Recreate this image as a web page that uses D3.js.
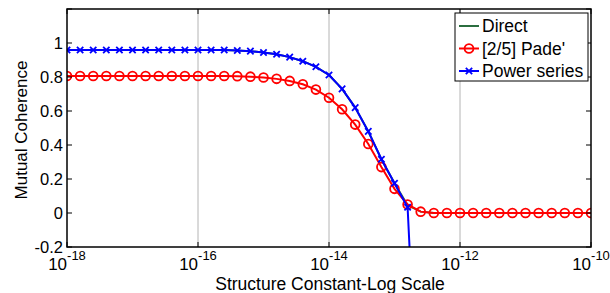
<!DOCTYPE html>
<html>
<head>
<meta charset="utf-8">
<script src="https://cdn.jsdelivr.net/npm/d3@7"></script>
<style>
  body { margin: 0; background: #fff; }
  text { font-family: "Liberation Sans", Arial, sans-serif; fill: #000; }
</style>
</head>
<body>
<div id="chart"></div>
<script>
// exponent of the structure constant (x = 10^exp)
const exps = [-18, -17.8, -17.6, -17.4, -17.2, -17, -16.8, -16.6, -16.4, -16.2,
  -16, -15.8, -15.6, -15.4, -15.2, -15, -14.8, -14.6, -14.4, -14.2,
  -14, -13.8, -13.6, -13.4, -13.2, -13, -12.8, -12.6, -12.4, -12.2,
  -12, -11.8, -11.6, -11.4, -11.2, -11, -10.8, -10.6, -10.4, -10.2, -10];

const pade = [0.806, 0.806, 0.806, 0.806, 0.806, 0.806, 0.806, 0.806, 0.806, 0.806,
  0.806, 0.806, 0.806, 0.805, 0.802, 0.797, 0.789, 0.777, 0.757, 0.726,
  0.678, 0.61, 0.52, 0.406, 0.27, 0.142, 0.05, 0.008, 0, 0,
  0, 0, 0, 0, 0, 0, 0, 0, 0, 0, 0];

// power series only evaluated up to where it diverges
const power = [0.959, 0.959, 0.959, 0.959, 0.959, 0.959, 0.959, 0.959, 0.959, 0.959,
  0.959, 0.959, 0.959, 0.956, 0.952, 0.944, 0.934, 0.917, 0.893, 0.86,
  0.812, 0.73, 0.62, 0.48, 0.316, 0.175, 0.034, -1.55];

const direct = [0.959, 0.959, 0.959, 0.959, 0.959, 0.959, 0.959, 0.959, 0.959, 0.959,
  0.959, 0.959, 0.959, 0.956, 0.952, 0.944, 0.934, 0.917, 0.893, 0.86,
  0.812, 0.73, 0.62, 0.48, 0.316, 0.175, 0.045, 0.008, 0, 0,
  0, 0, 0, 0, 0, 0, 0, 0, 0, 0, 0];

const xTickExps = [-18, -16, -14, -12, -10];
const gridExps = [-16, -14, -12];
const yTicks = [-0.2, 0, 0.2, 0.4, 0.6, 0.8, 1, 1.2];
const yLabels = ["-0.2", "0", "0.2", "0.4", "0.6", "0.8", "1", ""];
const legendNames = ["Direct", "[2/5] Pade'", "Power series"];

const W = 610, H = 293;
const L = 67, R = 591, T = 9, B = 247;

const svg = d3.select("#chart").append("svg")
  .attr("width", W).attr("height", H);

const x = d3.scaleLog().domain([1e-18, 1e-10]).range([L, R]);
const y = d3.scaleLinear().domain([-0.2, 1.2]).range([B, T]);

// grid lines
svg.append("g").selectAll("line")
  .data(gridExps)
  .join("line")
  .attr("x1", d => x(Math.pow(10, d))).attr("x2", d => x(Math.pow(10, d)))
  .attr("y1", T).attr("y2", B)
  .attr("stroke", "#b4b4b4").attr("stroke-width", 1);

// clip for data
svg.append("clipPath").attr("id", "clip")
  .append("rect").attr("x", L).attr("y", T).attr("width", R - L).attr("height", B - T);

const plot = svg.append("g").attr("clip-path", "url(#clip)");

const line = d3.line()
  .x((d, i) => x(Math.pow(10, exps[i])))
  .y(d => y(d));

plot.append("path").datum(direct)
  .attr("d", line).attr("fill", "none")
  .attr("stroke", "#2b6e3f").attr("stroke-width", 2);

plot.append("path").datum(pade)
  .attr("d", line).attr("fill", "none")
  .attr("stroke", "#ff0000").attr("stroke-width", 2);

plot.selectAll("circle.pade")
  .data(pade)
  .join("circle")
  .attr("class", "pade")
  .attr("cx", (d, i) => x(Math.pow(10, exps[i])))
  .attr("cy", d => y(d))
  .attr("r", 4.4)
  .attr("fill", "none").attr("stroke", "#ff0000").attr("stroke-width", 1.8);

plot.append("path").datum(power)
  .attr("d", line).attr("fill", "none")
  .attr("stroke", "#0000ff").attr("stroke-width", 2);

const cross = d3.symbol().type(d3.symbolX).size(28);
plot.selectAll("path.power")
  .data(power)
  .join("path")
  .attr("class", "power")
  .attr("transform", (d, i) => `translate(${x(Math.pow(10, exps[i]))},${y(d)})`)
  .attr("d", cross)
  .attr("fill", "none").attr("stroke", "#0000ff").attr("stroke-width", 1.8);

// axes box
svg.append("rect")
  .attr("x", L).attr("y", T).attr("width", R - L).attr("height", B - T)
  .attr("fill", "none").attr("stroke", "#000").attr("stroke-width", 1.5);

// ticks (inward, both sides)
const tk = 5;
svg.append("g").selectAll("line")
  .data(yTicks)
  .join("line")
  .attr("x1", L).attr("x2", L + tk)
  .attr("y1", d => y(d)).attr("y2", d => y(d))
  .attr("stroke", "#000");
svg.append("g").selectAll("line")
  .data(yTicks)
  .join("line")
  .attr("x1", R).attr("x2", R - tk)
  .attr("y1", d => y(d)).attr("y2", d => y(d))
  .attr("stroke", "#000");
svg.append("g").selectAll("line")
  .data(xTickExps)
  .join("line")
  .attr("x1", d => x(Math.pow(10, d))).attr("x2", d => x(Math.pow(10, d)))
  .attr("y1", B).attr("y2", B - tk)
  .attr("stroke", "#000");
svg.append("g").selectAll("line")
  .data(xTickExps)
  .join("line")
  .attr("x1", d => x(Math.pow(10, d))).attr("x2", d => x(Math.pow(10, d)))
  .attr("y1", T).attr("y2", T + tk)
  .attr("stroke", "#000");

// y tick labels
svg.append("g").selectAll("text")
  .data(yTicks)
  .join("text")
  .attr("x", L - 4)
  .attr("y", d => y(d) + 6)
  .attr("text-anchor", "end")
  .attr("font-size", "16.5px")
  .text((d, i) => yLabels[i]);

// x tick labels: 10^n
const xl = svg.append("g").selectAll("text")
  .data(xTickExps)
  .join("text")
  .attr("x", d => x(Math.pow(10, d)))
  .attr("y", 270)
  .attr("text-anchor", "middle")
  .attr("font-size", "17px");
xl.append("tspan").text("10");
xl.append("tspan").attr("dy", -10).attr("font-size", "13px").text(d => d);

// axis titles
svg.append("text")
  .attr("x", (L + R) / 2 + 1).attr("y", 290)
  .attr("text-anchor", "middle")
  .attr("font-size", "17.5px")
  .text("Structure Constant-Log Scale");

svg.append("text")
  .attr("transform", `translate(27,${(T + B) / 2 + 2}) rotate(-90)`)
  .attr("text-anchor", "middle")
  .attr("font-size", "17px")
  .text("Mutual Coherence");

// legend
const lg = svg.append("g");
lg.append("rect")
  .attr("x", 455).attr("y", 13).attr("width", 133).attr("height", 68)
  .attr("fill", "#fff").attr("stroke", "#000").attr("stroke-width", 1);
const lgColors = ["#2b6e3f", "#ff0000", "#0000ff"];
const lgY = [26, 48.5, 71];
legendNames.forEach((name, i) => {
  lg.append("line")
    .attr("x1", 459).attr("x2", 479).attr("y1", lgY[i]).attr("y2", lgY[i])
    .attr("stroke", lgColors[i]).attr("stroke-width", 2);
  if (i === 1) {
    lg.append("circle").attr("cx", 469).attr("cy", lgY[i]).attr("r", 4.4)
      .attr("fill", "none").attr("stroke", lgColors[i]).attr("stroke-width", 1.8);
  }
  if (i === 2) {
    lg.append("path").attr("transform", `translate(469,${lgY[i]})`)
      .attr("d", cross).attr("fill", "none")
      .attr("stroke", lgColors[i]).attr("stroke-width", 1.8);
  }
  lg.append("text")
    .attr("x", 482).attr("y", lgY[i] + 6)
    .attr("font-size", "17.5px")
    .text(name);
});
</script>
</body>
</html>
